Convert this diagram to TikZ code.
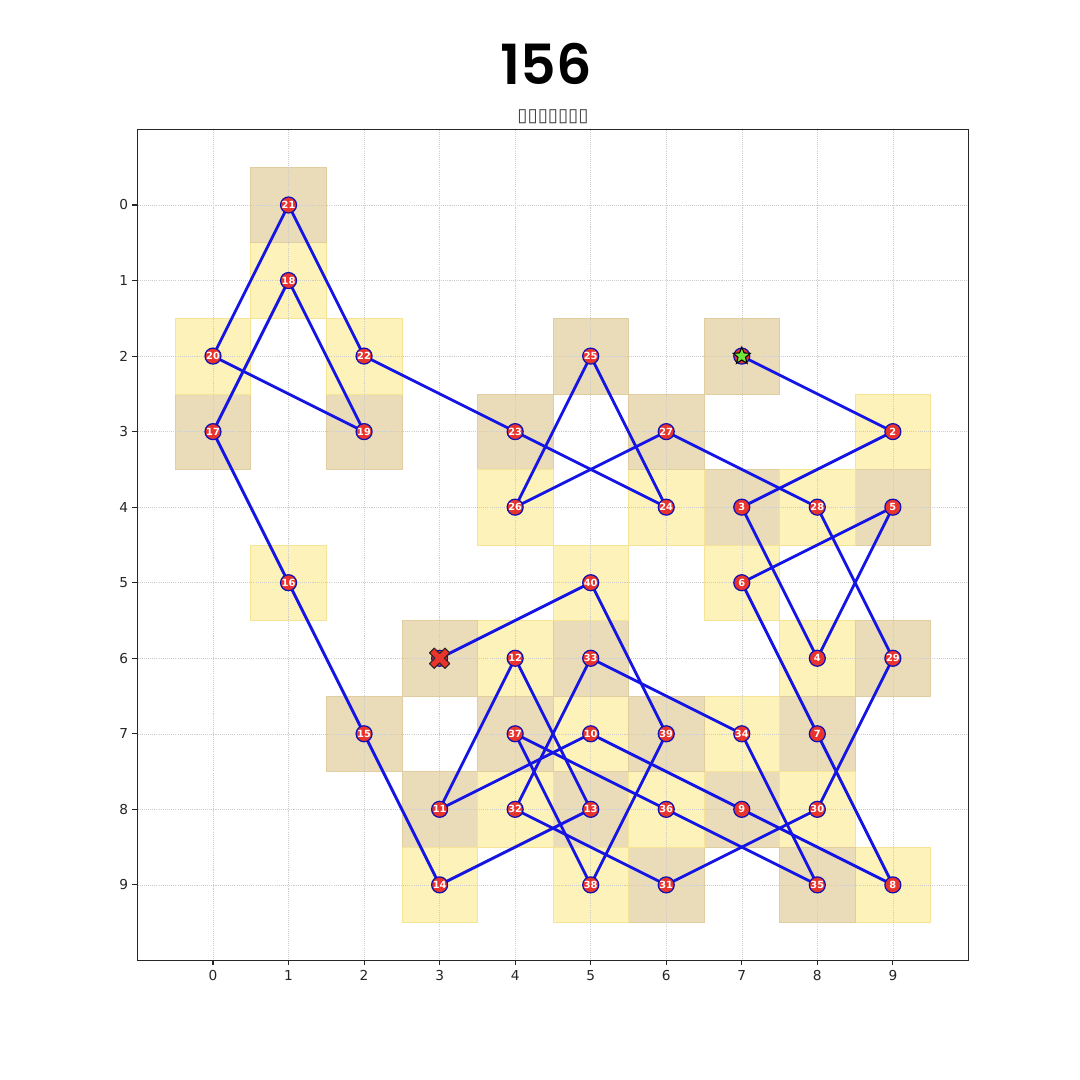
\documentclass[tikz,border=0pt]{standalone}
\usepackage{fontspec}
\setmainfont{DejaVu Sans}
\newfontfamily\titlefont{Poppins}[UprightFont={* SemiBold}]
\usetikzlibrary{shapes.geometric}
\definecolor{cellodd}{RGB}{234,220,184}
\definecolor{celleven}{RGB}{253,242,186}
\definecolor{celloddE}{RGB}{224,206,160}
\definecolor{cellevenE}{RGB}{246,228,150}
\definecolor{dotred}{RGB}{232,52,44}
\definecolor{routeblue}{RGB}{20,20,228}
\definecolor{stargreen}{RGB}{110,230,60}
\tikzset{
  gridl/.style={gray!40, line width=0.3pt, dash pattern=on 0.6pt off 0.6pt},
  route/.style={routeblue, line width=1.6pt, line cap=round, line join=round},
  dot/.style={circle, minimum size=0.32cm, inner sep=0pt, fill=dotred, draw=routeblue!80!black, line width=0.7pt,
    text=white, font=\fontsize{5.6}{6}\selectfont\bfseries},
  ticklab/.style={font=\fontsize{7.8}{9}\selectfont, inner sep=0pt, text=black!85},
}
\begin{document}
\begin{tikzpicture}[x=0.02cm,y=-0.02cm]
\useasboundingbox (0,0) rectangle (1080,1080);
\fill[white] (0,0) rectangle (1080,1080);
\node[font=\titlefont\fontsize{31.5}{34}\selectfont, inner sep=0pt] (title) at (546,64) {156};
\node[font=\fontsize{10.5}{12}\selectfont, inner sep=0pt, text=black!75] (subtitle) at (553,117) {▯▯▯▯▯▯▯};
\begin{scope}[shift={(213,205)}, x=1.51111cm, y=-1.51111cm]
  % cells
  \foreach \c/\r in {7/2,9/3,7/4,8/6,9/4,7/5,8/7,9/9,7/8,5/7,3/8,4/6,5/8,3/9,2/7,1/5,0/3,1/1,2/3,0/2,1/0,2/2,4/3,6/4,5/2,4/4,6/3,8/4,9/6,8/8,6/9,4/8,5/6,7/7,8/9,6/8,4/7,5/9,6/7,5/5,3/6} {
    \pgfmathtruncatemacro{\parity}{mod(\c+\r,2)}
    \ifnum\parity=1
      \filldraw[fill=cellodd, draw=celloddE, line width=0.4pt] (\c-0.5,\r-0.5) rectangle (\c+0.5,\r+0.5);
    \else
      \filldraw[fill=celleven, draw=cellevenE, line width=0.4pt] (\c-0.5,\r-0.5) rectangle (\c+0.5,\r+0.5);
    \fi
  }
  % grid
  \foreach \i in {0,...,9} {
    \draw[gridl] (\i,-1) -- (\i,10);
    \draw[gridl] (-1,\i) -- (10,\i);
  }
  % frame and ticks
  \draw[line width=0.6pt, black!85] (-1,-1) rectangle (10,10);
  \foreach \i in {0,...,9} {
    \draw[line width=0.6pt, black!85] (\i,10) -- (\i,10.066);
    \draw[line width=0.6pt, black!85] (-1,\i) -- (-1.066,\i);
    \node[ticklab, anchor=north] (xt\i) at (\i,10.125) {\i};
    \node[ticklab, anchor=east] (yt\i) at (-1.12,\i) {\i};
  }
  % route points
  \foreach \n/\c/\r in {1/7/2,2/9/3,3/7/4,4/8/6,5/9/4,6/7/5,7/8/7,8/9/9,9/7/8,10/5/7,11/3/8,12/4/6,13/5/8,14/3/9,15/2/7,16/1/5,17/0/3,18/1/1,19/2/3,20/0/2,21/1/0,22/2/2,23/4/3,24/6/4,25/5/2,26/4/4,27/6/3,28/8/4,29/9/6,30/8/8,31/6/9,32/4/8,33/5/6,34/7/7,35/8/9,36/6/8,37/4/7,38/5/9,39/6/7,40/5/5,41/3/6} {
    \coordinate (p\n) at (\c,\r);
  }
  \foreach \i in {1,...,40} {
    \pgfmathtruncatemacro{\j}{\i+1}
    \draw[route] (p\i) -- (p\j);
  }
  \foreach \i in {2,...,40} {
    \node[dot] (n\i) at (p\i) {\i};
  }
  % start
  \node[dot] (n1) at (p1) {};
  \node[star, star points=5, star point ratio=2.3, minimum size=0.36cm, inner sep=0pt, fill=stargreen, draw=black, line width=0.6pt] (start) at (p1) {};
  % end
  \node[dot] (n41) at (p41) {};
  \begin{scope}[shift={(p41)}, x=0.02cm, y=0.02cm, rotate=45]
    \filldraw[fill=dotred, draw=black!85, line width=0.6pt, line join=round]
      (3.4,11) -- (3.4,3.4) -- (11,3.4) -- (11,-3.4) -- (3.4,-3.4) -- (3.4,-11) -- (-3.4,-11) -- (-3.4,-3.4) -- (-11,-3.4) -- (-11,3.4) -- (-3.4,3.4) -- (-3.4,11) -- cycle;
  \end{scope}
\end{scope}
\end{tikzpicture}
\end{document}
